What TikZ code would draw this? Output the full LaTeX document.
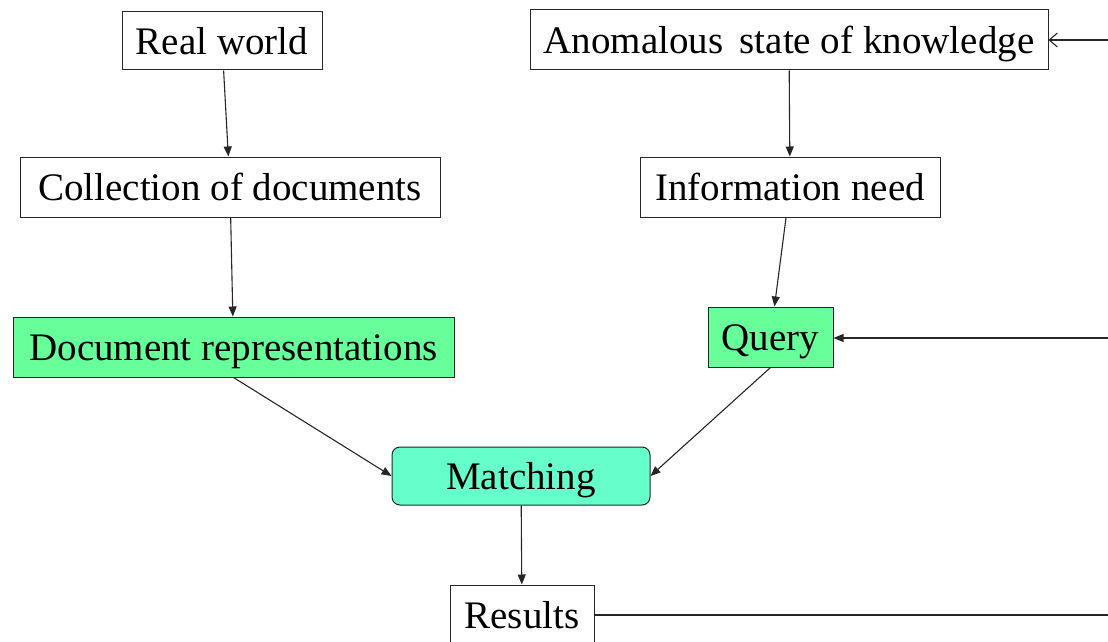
\documentclass[tikz,border=0pt]{standalone}
\usepackage{fontspec}
\setmainfont{Liberation Serif}
\usetikzlibrary{arrows.meta,positioning}

\definecolor{repgreen}{HTML}{66FF99}
\definecolor{matchgreen}{HTML}{66FFCC}

\begin{document}
\begin{tikzpicture}[x=1pt,y=-1pt,
    box/.style={rectangle, draw=black!85, line width=1pt, inner sep=0pt,
        font=\fontsize{39}{42}\selectfont, text height=32pt, text depth=5pt},
    arr/.style={-{Triangle[length=10pt,width=8pt]}, line width=1.1pt, draw=black!85}]
        \useasboundingbox (0,0) rectangle (1108,642);

        %% left branch
        \node[box, minimum width=200, minimum height=58] (rw) at (222,41) {Real world};
        \node[box, minimum width=420, minimum height=60] (cd) at (230,187) {Collection of documents};
        \node[box, fill=repgreen, minimum width=441, minimum height=60] (dr) at (233.5,347) {Document representations};

        %% right branch
        \node[box, minimum width=518, minimum height=60] (ask) at (789,40) {Anomalous\, state of knowledge};
        \node[box, minimum width=300, minimum height=60] (in) at (790,187) {Information need};
        \node[box, fill=repgreen, minimum width=125, minimum height=60] (q) at (770.5,337) {Query};

        %% matching and results
        \node[box, rounded corners=8pt, fill=matchgreen, minimum width=258, minimum height=58] (m) at (521,476) {Matching};
        \node[box, minimum width=144, minimum height=60] (res) at (522,615) {Results};

        \draw[arr] (rw) -- (cd);
        \draw[arr] (cd) -- (dr);
        \draw[arr] (ask) -- (in);
        \draw[arr] (in) -- (q);
        \draw[arr] (dr.south) -- (m.west);
        \draw[arr] (q.south) -- (m.east);
        \draw[arr] (m) -- (res);

        %% feedback lines
        \coordinate (fbres) at (1108,615);
        \coordinate (fbq) at (1108,338);
        \coordinate (fbask) at (1108,40);
        \draw[line width=1.1pt, draw=black!85] (res) -- (fbres);
        \draw[arr] (fbq) -- (q.east |- fbq);
        \draw[-{Straight Barb[length=8pt,width=14pt]}, line width=1.1pt, draw=black!85] (fbask) -- (ask.east |- fbask);
\end{tikzpicture}
\end{document}
